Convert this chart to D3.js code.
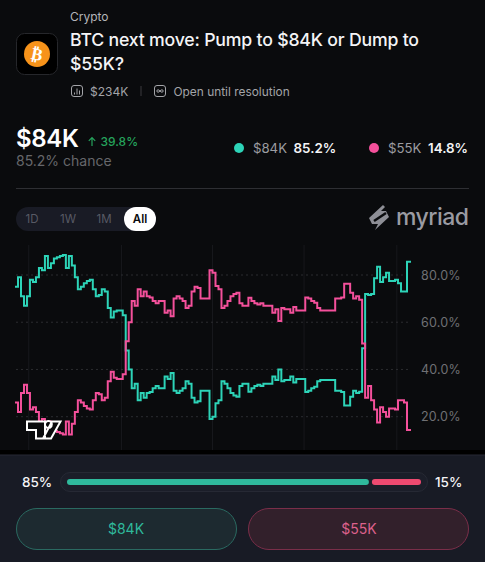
<!DOCTYPE html>
<html>
<head>
<meta charset="utf-8">
<script src="https://cdnjs.cloudflare.com/ajax/libs/d3/7.8.5/d3.min.js"></script>
<style>
  html, body { margin: 0; padding: 0; background: #0a0b0d; overflow: hidden; }
  svg { display: block; font-family: Inter, "Noto Sans", sans-serif; }
  .grid-h { stroke: #2b2c30; stroke-dasharray: 2 3; }
  .grid-v { stroke: #17181c; }
  .y-axis text { fill: #6f7074; font-size: 12.5px; font-family: Inter, sans-serif; letter-spacing: 0.2px; }
</style>
</head>
<body>
<div class="svg_container"></div>
<script>
// chart values
var pumpValues = [75, 79, 71, 67, 71, 78, 77, 79, 83, 82, 88, 83, 85, 87, 87.5, 88, 88.5, 83, 88, 84,
  79, 74, 75, 76.5, 77.5, 78, 74, 71, 71.5, 74, 73, 66, 62, 64.5, 65, 65, 63, 48, 40, 32,
  34, 27, 30, 28, 30, 30.5, 32, 33, 32, 32, 37, 36, 38.5, 31, 30, 31, 32, 35, 34, 28,
  26, 26.5, 31, 31, 31, 19, 20, 25.7, 27, 35, 34, 32, 30, 29, 28.5, 33, 34, 34, 30.6, 32,
  33, 33.5, 33, 34, 34, 34, 37, 35.5, 40, 35, 35.5, 35.5, 37, 34.5, 36, 36, 36, 30.5, 31, 32,
  32.7, 35, 35.5, 35.5, 35.5, 35.5, 35.5, 31, 31, 30.5, 24.7, 24.7, 28.5, 31, 30, 30.6, 49, 72, 71.5, 72,
  78.6, 83.5, 77, 79, 81, 77.5, 77.5, 78, 76.5, 73, 73, 85.6, 85.2];
var dumpValues = [26, 22, 30, 33.5, 30, 23, 24, 22, 18, 19, 13, 18, 16, 14, 13.5, 13, 12.5, 18, 12.5, 17,
  22, 27, 26, 24.5, 23.5, 23, 27, 30, 29.5, 27, 28, 35, 39, 36.5, 36, 36, 38, 52, 60, 69,
  67, 74, 71, 73, 71, 70.5, 69, 68, 69, 69, 64, 65, 62.5, 70, 71, 70, 69, 66, 67, 73,
  75, 74.5, 70, 70, 70, 82, 81, 75.3, 74, 66, 67, 69, 71, 72, 72.5, 68, 67, 67, 70.4, 69,
  68, 67.5, 68, 67, 67, 67, 64, 65.5, 60.5, 66, 65.5, 65.5, 64, 66.5, 65, 65, 65, 70.5, 70, 69,
  68.3, 66, 65, 65, 65, 65, 65, 70, 70, 70.5, 76.3, 76.3, 72.5, 70, 71, 69.5, 51, 28, 33, 27,
  23, 17.5, 24, 22, 20, 23.5, 23.5, 23, 27, 27, 26, 14.4, 14.8];
var yTicks = [20, 40, 60, 80];
var xGridSteps = [4.6, 35.6, 66, 96.6, 127.6];
var rangeLabels = ["1D", "1W", "1M", "All"];
var barShares = [85, 15];

var width = 485, height = 562;
var pumpColor = "#2dd4b8", dumpColor = "#f4509b";

var svg = d3.select(".svg_container").append("svg")
  .attr("width", width)
  .attr("height", height);

function label(x, y, str, size, color, weight, anchor) {
  return svg.append("text")
    .attr("x", x).attr("y", y)
    .attr("font-size", size)
    .attr("fill", color)
    .attr("font-weight", weight || 400)
    .attr("text-anchor", anchor || "start")
    .text(str);
}

// header
label(70, 21, "Crypto", 12, "#b4b5b9");
label(70, 46, "BTC next move: Pump to $84K or Dump to", 17.7, "#f4f4f6", 500).attr("letter-spacing", "-0.2px");
label(70, 70, "$55K?", 17.7, "#f4f4f6", 500).attr("letter-spacing", "-0.2px");

svg.append("rect").attr("x", 16.5).attr("y", 33.5).attr("width", 41).attr("height", 41)
  .attr("rx", 8).attr("fill", "#000").attr("stroke", "#26272b");
svg.append("circle").attr("cx", 37).attr("cy", 54).attr("r", 13).attr("fill", "#f7931a");
label(37, 60, "\u20bf", 17, "#fff", 700, "middle").attr("font-family", "DejaVu Sans").attr("transform", "rotate(12 37 54)");

// meta row icons
svg.append("rect").attr("x", 71.5).attr("y", 85.5).attr("width", 11).attr("height", 11).attr("rx", 2.5)
  .attr("fill", "none").attr("stroke", "#a3a4a8");
svg.append("path").attr("d", "M74.5 92.5v2M77 88.5v6M79.5 90.5v4").attr("stroke", "#a3a4a8").attr("fill", "none");
label(90, 95.5, "$234K", 12, "#a3a4a8");
svg.append("line").attr("x1", 141).attr("x2", 141).attr("y1", 86).attr("y2", 96).attr("stroke", "#3a3b3f");
svg.append("rect").attr("x", 154.5).attr("y", 85.5).attr("width", 11).attr("height", 11).attr("rx", 2.5)
  .attr("fill", "none").attr("stroke", "#a3a4a8");
svg.append("path").attr("d", "M160 91c-1-1.6-3.2-1.6-3.2 0s2.2 1.6 3.2 0c1-1.6 3.2-1.6 3.2 0s-2.2 1.6-3.2 0")
  .attr("stroke", "#a3a4a8").attr("fill", "none");
label(173.5, 95.5, "Open until resolution", 11.9, "#a3a4a8");

// headline value
label(16, 147, "$84K", 24, "#fff", 600).attr("letter-spacing", "-0.3px");
svg.append("path").attr("d", "M92 146v-8.5M88.8 140.800l3.2-3.3 3.2 3.3").attr("stroke", "#25a35c")
  .attr("stroke-width", 1.2).attr("fill", "none");
label(100.5, 146, "39.8%", 12, "#25a35c", 500);
label(16, 166, "85.2% chance", 14, "#66676b");

// legend
svg.append("circle").attr("cx", 239).attr("cy", 148).attr("r", 5).attr("fill", pumpColor);
label(253, 152.5, "$84K", 13.2, "#9c9da1");
label(293.5, 152.5, "85.2%", 13.4, "#f4f4f6", 600);
svg.append("circle").attr("cx", 374).attr("cy", 148).attr("r", 5).attr("fill", dumpColor);
label(388, 152.5, "$55K", 13.2, "#9c9da1");
label(428, 152.5, "14.8%", 13.4, "#f4f4f6", 600);

svg.append("line").attr("x1", 16).attr("x2", 469).attr("y1", 188.5).attr("y2", 188.5).attr("stroke", "#2e2f33");

// range toggle
svg.append("rect").attr("x", 16).attr("y", 207).attr("width", 140).attr("height", 24).attr("rx", 12).attr("fill", "#191b25");
svg.append("rect").attr("x", 124).attr("y", 207).attr("width", 32).attr("height", 24).attr("rx", 12).attr("fill", "#fff");
var rangeX = d3.scalePoint().domain(rangeLabels).range([32, 140]);
rangeLabels.forEach(function(d) {
  label(rangeX(d), 223, d, 11.5, d === "All" ? "#0a0b0d" : "#585a64", d === "All" ? 600 : 400, "middle");
});

// myriad logo
svg.append("path")
  .attr("d", "M383 205L369 218L372 224H378L375 230L389 217L386 211H381L385 207Z")
  .attr("fill", "#8e8f96");
svg.append("path").attr("d", "M374 221L386 213").attr("stroke", "#0a0b0d").attr("stroke-width", 2.5);
label(396, 225, "myriad", 23, "#9a9ba2", 500).attr("letter-spacing", "-0.5px");

// scales
var x = d3.scaleLinear().domain([0, pumpValues.length - 1]).range([15, 410]);
var y = d3.scaleLinear().domain([80, 20]).range([275, 416.7]);

svg.selectAll(".grid-v").data(xGridSteps).enter().append("line")
  .attr("class", "grid-v")
  .attr("x1", function(d) { return x(d); })
  .attr("x2", function(d) { return x(d); })
  .attr("y1", 245).attr("y2", 450);

svg.selectAll(".grid-h").data(yTicks).enter().append("line")
  .attr("class", "grid-h")
  .attr("x1", 16).attr("x2", 410)
  .attr("y1", function(d) { return y(d); })
  .attr("y2", function(d) { return y(d); });

// lines
var line = d3.line()
  .x(function(d, i) { return x(i); })
  .y(function(d) { return y(d); })
  .curve(d3.curveStepAfter);

svg.append("path").datum(pumpValues).attr("d", line)
  .attr("fill", "none").attr("stroke", pumpColor).attr("stroke-width", 2);
svg.append("path").datum(dumpValues).attr("d", line)
  .attr("fill", "none").attr("stroke", dumpColor).attr("stroke-width", 2);

// y axis
svg.append("g").attr("class", "y-axis")
  .attr("transform", "translate(412,0)")
  .call(d3.axisRight(y).tickValues(yTicks).tickSize(0).tickPadding(9).tickFormat(function(d) { return d.toFixed(1) + "%"; }))
  .call(function(g) { g.select(".domain").remove(); });

// tradingview mark
svg.append("path")
  .attr("d", "M27 421.500H45V438.500H36V430H27ZM48.500 421A3.500 3.500 0 1 1 48.400 421ZM52 421.500H60.500L51 438.500H43Z")
  .attr("fill", "#0a0b0d").attr("stroke", "#fff").attr("stroke-width", 2);

// bottom panel
svg.append("rect").attr("x", 0).attr("y", 450).attr("width", width).attr("height", 5).attr("fill", "#000");
svg.append("rect").attr("x", 0).attr("y", 455).attr("width", width).attr("height", 107).attr("fill", "#181b25");
svg.append("line").attr("x1", 0).attr("x2", width).attr("y1", 455).attr("y2", 455).attr("stroke", "#262934");

label(22, 487, barShares[0] + "%", 13.5, "#f4f4f6", 500);
label(435, 487, barShares[1] + "%", 13.5, "#f4f4f6", 500);
svg.append("rect").attr("x", 60.5).attr("y", 472.5).attr("width", 367).attr("height", 19).attr("rx", 9.5)
  .attr("fill", "#1b1e29").attr("stroke", "#262934");

var barX = d3.scaleLinear().domain([0, 100]).range([67, 421]);
svg.append("rect").attr("x", barX(0)).attr("y", 479).attr("width", barX(barShares[0]) - barX(0) + 1).attr("height", 6)
  .attr("rx", 3).attr("fill", "#2fb99c");
svg.append("rect").attr("x", barX(barShares[0]) + 4).attr("y", 479).attr("width", barX(100) - barX(barShares[0]) - 4).attr("height", 6)
  .attr("rx", 3).attr("fill", "#ee4a70");

// buttons
svg.append("rect").attr("x", 16.5).attr("y", 508.5).attr("width", 220).attr("height", 41).attr("rx", 20.5)
  .attr("fill", "#1d2a30").attr("stroke", "#2a6a61");
label(126, 534, "$84K", 14, "#2fb99c", 400, "middle");
svg.append("rect").attr("x", 248.5).attr("y", 508.5).attr("width", 220).attr("height", 41).attr("rx", 20.5)
  .attr("fill", "#32202b").attr("stroke", "#7a2e49");
label(359, 534, "$55K", 14, "#dd618c", 400, "middle");
</script>
</body>
</html>
